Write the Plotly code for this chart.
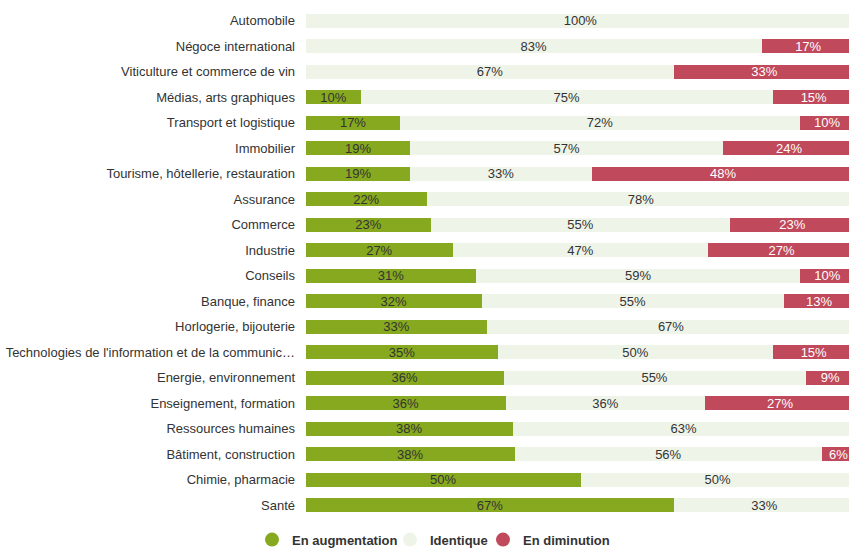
import plotly.graph_objects as go

categories = [
    "Automobile", "Négoce international", "Viticulture et commerce de vin",
    "Médias, arts graphiques", "Transport et logistique", "Immobilier",
    "Tourisme, hôtellerie, restauration", "Assurance", "Commerce", "Industrie",
    "Conseils", "Banque, finance", "Horlogerie, bijouterie",
    "Technologies de l'information et de la communic…", "Energie, environnement",
    "Enseignement, formation", "Ressources humaines", "Bâtiment, construction",
    "Chimie, pharmacie", "Santé",
]
augmentation = [0, 0, 0, 10, 17, 19, 19, 22, 23, 27, 31, 32, 33, 35, 36, 36, 38, 38, 50, 67]
identique = [100, 83, 67, 75, 72, 57, 33, 78, 55, 47, 59, 55, 67, 50, 55, 36, 63, 56, 50, 33]
diminution = [0, 17, 33, 15, 10, 24, 48, 0, 23, 27, 10, 13, 0, 15, 9, 27, 0, 6, 0, 0]

series_names = ["En augmentation", "Identique", "En diminution"]
colors = ["#86a91f", "#eff4e9", "#c0495b"]
text_colors = ["#333333", "#333333", "#ffffff"]
legend_ids = ["legend", "legend2", "legend3"]
legend_x_px = [252, 390, 483]
FONT = "Liberation Sans, Arial, sans-serif"

fig = go.Figure()
for name, vals, col, tcol, lg in zip(series_names, [augmentation, identique, diminution], colors, text_colors, legend_ids):
    fig.add_trace(go.Bar(
        y=categories, x=vals, orientation="h", name=name,
        marker=dict(color=col, line=dict(width=0)),
        text=[f"{v}%" if v else "" for v in vals],
        textposition="inside", insidetextanchor="middle",
        textfont=dict(color=tcol, size=13, family=FONT),
        showlegend=False,
    ))
    fig.add_trace(go.Scatter(
        x=[None], y=[None], mode="markers", name=name,
        marker=dict(color=col, size=14, symbol="circle"),
        showlegend=True, legend=lg,
    ))

legend_common = dict(orientation="h", xref="container", yref="container", xanchor="left",
                     y=0.017, yanchor="middle",
                     font=dict(size=13, family=FONT, color="#333333", weight="bold"),
                     itemwidth=30, bgcolor="rgba(0,0,0,0)")

fig.update_layout(
    width=849, height=549,
    barmode="stack", barnorm="percent", bargap=0.46,
    margin=dict(l=306, r=0, t=8, b=31, autoexpand=False),
    plot_bgcolor="white", paper_bgcolor="white",
    font=dict(family=FONT, size=13, color="#333333"),
    uniformtext=dict(minsize=13, mode="show"),
    xaxis=dict(range=[0, 98.9], showgrid=False, showticklabels=False, zeroline=False,
               fixedrange=True, automargin=False),
    yaxis=dict(autorange="reversed", showgrid=False, ticks="", ticklabelstandoff=10,
               automargin=False, tickfont=dict(size=13, color="#333333", family=FONT)),
    legend=dict(x=legend_x_px[0] / 849, **legend_common),
    legend2=dict(x=legend_x_px[1] / 849, **legend_common),
    legend3=dict(x=legend_x_px[2] / 849, **legend_common),
)
fig.write_html("out.html", config={"displayModeBar": False},
               post_script="document.body.style.margin='0';document.body.style.overflow='hidden';")
